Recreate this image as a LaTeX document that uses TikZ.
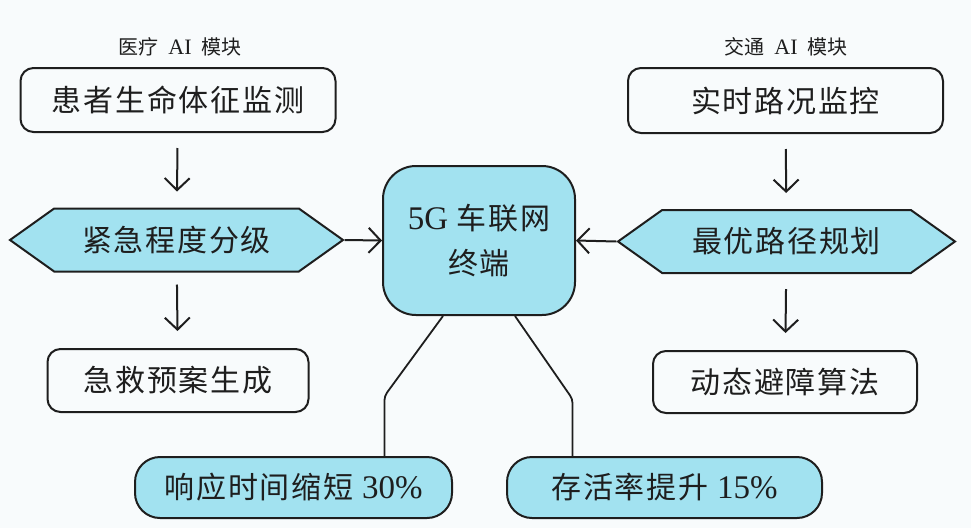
\documentclass[tikz,border=0pt]{standalone}
\usepackage{fontspec}
\setmainfont{Noto Sans CJK SC}
\newfontfamily\boxfont[LetterSpace=6]{Noto Sans CJK SC}
\newfontfamily\latinfont{Liberation Serif}
\usetikzlibrary{arrows.meta,shapes.symbols}
\definecolor{termcyan}{RGB}{162,226,240}
\definecolor{inkline}{RGB}{30,30,30}
\definecolor{paper}{RGB}{248,251,252}

\begin{document}
\begin{tikzpicture}[x=1pt, y=-1pt,
        title/.style={font=\fontsize{20}{22}\selectfont, text=inkline},
        stepbox/.style={rectangle, draw=inkline, line width=2pt, rounded corners=13pt,
            font=\boxfont\fontsize{30}{34}\selectfont, text=inkline, inner sep=0pt},
        hexbox/.style={signal, signal to=east and west, signal pointer angle=71,
            draw=inkline, line width=2pt, fill=termcyan,
            font=\boxfont\fontsize{30}{34}\selectfont, text=inkline, inner sep=0pt},
        result/.style={rectangle, draw=inkline, line width=2pt, rounded corners=25pt,
            fill=termcyan, font=\boxfont\fontsize{30}{34}\selectfont, text=inkline, inner sep=0pt},
        arrow/.style={-{Straight Barb[length=12pt,width=25pt]}, line width=2pt, draw=inkline},
        link/.style={line width=1.8pt, draw=inkline, rounded corners=4pt}
    ]
        \fill[paper] (0,0) rectangle (971,528);
        \useasboundingbox (0,0) rectangle (971,528);

        % Medical side
        \node[title] (medtitle) at (180,47) {医疗\hspace{10pt}{\latinfont\fontsize{22}{22}\selectfont AI}\hspace{10pt}模块};
        \node[stepbox, minimum width=315pt, minimum height=64pt] (vitals) at (178,100) {患者生命体征监测};
        \node[hexbox, minimum width=333pt, minimum height=63pt] (grade) at (176.5,240) {紧急程度分级};
        \node[stepbox, minimum width=261pt, minimum height=63pt] (plan) at (178,380.5) {急救预案生成};

        \draw[arrow, shorten <=15pt, shorten >=16pt] (vitals) -- (grade);
        \draw[arrow, shorten <=12pt, shorten >=17pt] (grade) -- (plan);

        % Terminal
        \node[rectangle, draw=inkline, line width=2pt, rounded corners=33pt, fill=termcyan,
            minimum width=192pt, minimum height=149pt, align=center, text=inkline,
            font=\boxfont\fontsize{30}{45}\selectfont] (terminal) at (479,240.5)
            {{\latinfont\fontsize{33}{34}\selectfont 5G} 车联网\\终端};

        \draw[arrow] (grade.east) -- (terminal.west);

        % Traffic side
        \node[title] (traftitle) at (786,47) {交通\hspace{10pt}{\latinfont\fontsize{22}{22}\selectfont AI}\hspace{10pt}模块};
        \node[stepbox, minimum width=315pt, minimum height=65pt] (traffic) at (785.5,100.5) {实时路况监控};
        \node[hexbox, minimum width=337pt, minimum height=63pt] (route) at (786.5,241.5) {最优路径规划};
        \node[stepbox, minimum width=264pt, minimum height=62pt] (avoid) at (785,382) {动态避障算法};

        \draw[arrow, shorten <=15pt, shorten >=16pt] (traffic) -- (route);
        \draw[arrow, shorten <=15pt, shorten >=17pt] (route) -- (avoid);
        \draw[arrow] (route.west) -- (terminal.east);

        % Results
        \node[result, minimum width=317pt, minimum height=61pt] (resp) at (293.5,487.5) {响应时间缩短 {\latinfont\fontsize{33}{34}\selectfont 30\%}};
        \node[result, minimum width=315pt, minimum height=61pt] (surv) at (664.5,487.5) {存活率提升 {\latinfont\fontsize{33}{34}\selectfont 15\%}};

        \draw[link] ([xshift=-36pt]terminal.south) -- ([xshift=91pt,yshift=60pt]resp.north) -- ([xshift=91pt]resp.north);
        \draw[link] ([xshift=36pt]terminal.south) -- ([xshift=-92pt,yshift=57pt]surv.north) -- ([xshift=-92pt]surv.north);
    \end{tikzpicture}
\end{document}
